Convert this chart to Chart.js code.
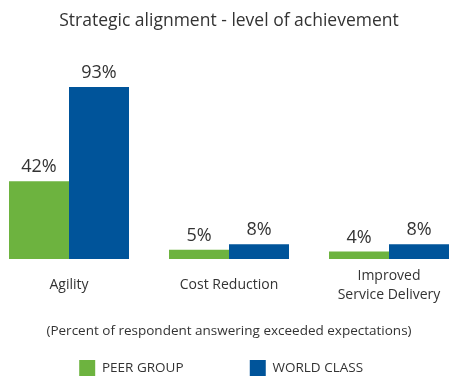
<!DOCTYPE html>
<html>
<head>
<meta charset="utf-8">
<script src="https://cdn.jsdelivr.net/npm/chart.js@4"></script>
<style>
html,body{margin:0;padding:0;background:#fff;overflow:hidden;width:458px;height:382px;}
#wrap{position:absolute;left:-11px;top:0;width:480px;height:386px;}
</style>
</head>
<body>
<div id="wrap"><canvas id="c"></canvas></div>
<script>
const categories = ['Agility', 'Cost Reduction', ['Improved', 'Service Delivery']];
const peerGroup = [42, 5, 4];
const worldClass = [93, 8, 8];
const seriesNames = ['PEER GROUP', 'WORLD CLASS'];
const titleText = 'Strategic alignment - level of achievement';
const noteText = '(Percent of respondent answering exceeded expectations)';

const FONT = "'Open Sans', sans-serif";
const TEXT = '#333333';
const COLORS = ['#6db33f', '#00549a'];
const LEGEND_PAD = ['\u2003\u2003\u2003\u2003\u2009', '\u2003\u2009'];

const valueLabels = {
  id: 'valueLabels',
  afterDatasetsDraw(chart) {
    const ctx = chart.ctx;
    ctx.save();
    ctx.font = "18px " + FONT;
    ctx.fillStyle = TEXT;
    ctx.textAlign = 'center';
    ctx.textBaseline = 'alphabetic';
    chart.data.datasets.forEach((ds, i) => {
      chart.getDatasetMeta(i).data.forEach((bar, j) => {
        ctx.fillText(ds.data[j] + '%', bar.x, bar.y - 9);
      });
    });
    ctx.restore();
  }
};

new Chart(document.getElementById('c'), {
  type: 'bar',
  data: {
    labels: categories,
    datasets: [
      { label: seriesNames[0], data: peerGroup, backgroundColor: COLORS[0] },
      { label: seriesNames[1], data: worldClass, backgroundColor: COLORS[1] }
    ]
  },
  options: {
    responsive: true,
    maintainAspectRatio: false,
    animation: false,
    layout: { padding: 0 },
    datasets: { bar: { categoryPercentage: 0.75, barPercentage: 1.0 } },
    scales: {
      x: {
        grid: { display: false },
        border: { display: false },
        ticks: {
          color: TEXT, font: { family: FONT, size: 14, lineHeight: 1.35 },
          padding: 9, maxRotation: 0, crossAlign: 'center'
        }
      },
      y: { display: false, min: 0, max: 119 }
    },
    plugins: {
      title: {
        display: true, text: titleText, color: TEXT,
        font: { family: FONT, size: 17.5, weight: 'normal' },
        padding: { top: 11, bottom: 7 }
      },
      subtitle: {
        display: true, text: noteText, position: 'bottom', weight: 500, color: TEXT,
        font: { family: FONT, size: 13.5, weight: 'normal' },
        padding: { top: 0, bottom: 11 }
      },
      legend: {
        position: 'bottom',
        labels: {
          color: TEXT, boxWidth: 16, boxHeight: 16, padding: 10,
          font: { family: FONT, size: 13.5 },
          generateLabels(chart) {
            return chart.data.datasets.map((ds, i) => ({
              text: ds.label + LEGEND_PAD[i],
              fillStyle: ds.backgroundColor,
              strokeStyle: ds.backgroundColor,
              lineWidth: 0,
              fontColor: TEXT,
              hidden: false,
              datasetIndex: i
            }));
          }
        }
      },
      tooltip: { enabled: false }
    }
  },
  plugins: [valueLabels]
});
</script>
</body>
</html>
